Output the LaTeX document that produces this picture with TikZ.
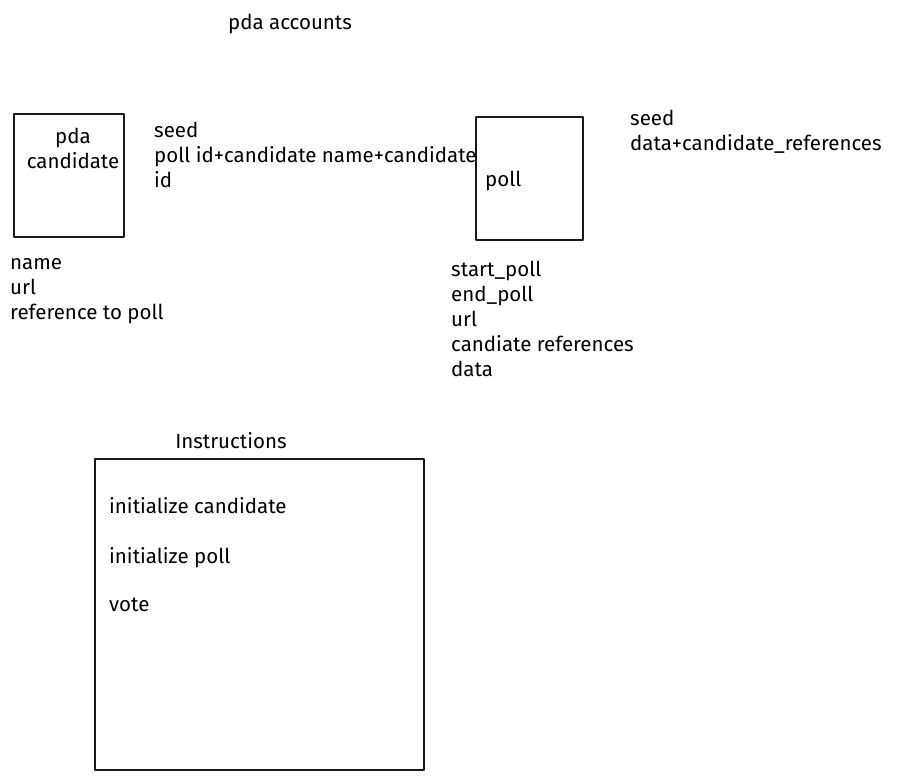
\documentclass[tikz,border=0pt]{standalone}
\usepackage{fontspec}
\setmainfont{Fira Sans}
\begin{document}
\begin{tikzpicture}[x=1pt,y=-1pt,
  sketchbox/.style={draw=black!90,line width=1.8pt,line join=round},
  label/.style={inner sep=0pt,anchor=north west,align=left,
    font=\fontsize{20.5}{25}\selectfont},
  title/.style={inner sep=0pt,font=\fontsize{20.5}{25}\selectfont}]
  \useasboundingbox (0,0) rectangle (904,779);
  \fill[white] (0,0) rectangle (904,779);

  % heading
  \node[title,anchor=north] (heading) at (290,14) {pda accounts};

  % candidate account
  \draw[sketchbox] (14,114) rectangle (124,237);
  \node[title,align=center,anchor=north] (candidate) at (73,128) {pda\\candidate};
  \node[label] (candseeds) at (154,122) {seed\\poll id+candidate name+candidate\\id};
  \node[label] (candfields) at (10,258) {name\\url\\reference to poll};

  % poll account
  \draw[sketchbox] (476,117) rectangle (583,240);
  \node[label] (poll) at (485,171) {poll};
  \node[label] (pollseeds) at (630,110) {seed\\data+candidate\_references};
  \node[label] (pollfields) at (451,261) {start\_poll\\end\_poll\\url\\candiate references\\data};

  % instructions
  \node[title,anchor=north] (instrtitle) at (231,432) {Instructions};
  \draw[sketchbox] (95,459) rectangle (424,770);
  \node[label] (instr1) at (109,497) {initialize candidate};
  \node[label] (instr2) at (109,547) {initialize poll};
  \node[label] (instr3) at (109,598) {vote};
\end{tikzpicture}
\end{document}
